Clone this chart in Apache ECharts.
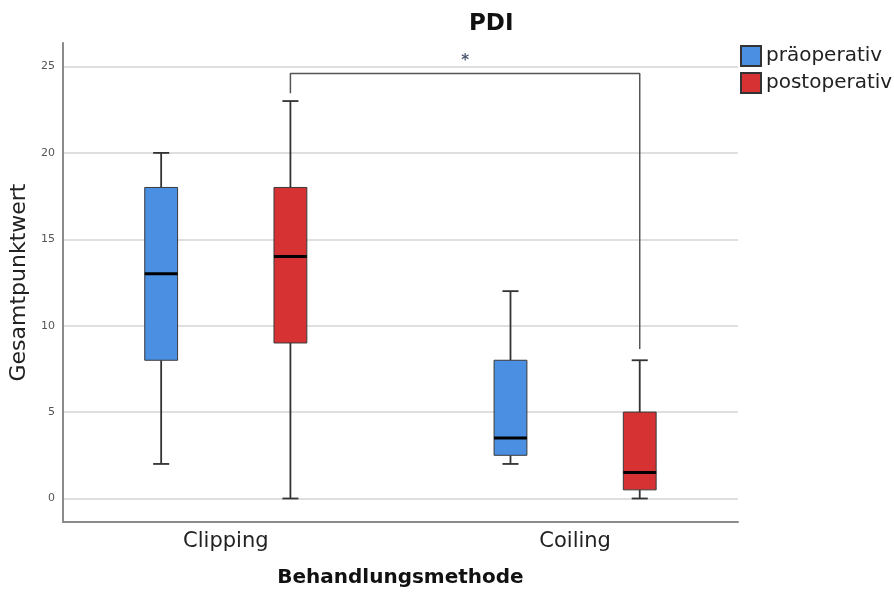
<!DOCTYPE html>
<html>
<head>
<meta charset="utf-8">
<title>PDI</title>
<script src="https://cdn.jsdelivr.net/npm/echarts@6/dist/echarts.min.js"></script>
<style>
  html, body { margin: 0; padding: 0; background: #fff; }
  #chart { width: 894px; height: 595px; }
</style>
</head>
<body>
<div id="chart"></div>
<script>
// Gruppen auf der x-Achse
var groups = ['Clipping', 'Coiling'];
var groupPos = [1, 2];
// [min, Q1, Median, Q3, max]
var praeStats = [[2, 8, 13, 18, 20], [2, 2.5, 3.5, 8, 12]];
var postStats = [[0, 9, 14, 18, 23], [0, 0.5, 1.5, 5, 8]];
var yTicks = [0, 5, 10, 15, 20, 25];
// Signifikanzklammer (post Clipping -> post Coiling)
var bracketTop = 24.6;
var bracketLegs = [23.45, 8.65];
var starLevel = 25.3;

var praeColor = '#4a8fe2';
var postColor = '#d63233';
var boxOffset = 0.185;   // Abstand Box zu Gruppenmitte
var boxWidth = 0.094;
var capWidth = 0.046;

function boxData(stats) {
  return groupPos.map(function (g, i) { return [g].concat(stats[i]); });
}

function renderBox(offset, color) {
  return function (params, api) {
    var x = api.value(0) + offset;
    var half = api.size([boxWidth, 0])[0] / 2;
    var capHalf = api.size([capWidth, 0])[0] / 2;
    var pMin = api.coord([x, api.value(1)]);
    var pQ1 = api.coord([x, api.value(2)]);
    var pMed = api.coord([x, api.value(3)]);
    var pQ3 = api.coord([x, api.value(4)]);
    var pMax = api.coord([x, api.value(5)]);
    var wStyle = { stroke: '#333', lineWidth: 1.8 };
    return {
      type: 'group',
      children: [
        { type: 'line', shape: { x1: pMin[0], y1: pMin[1], x2: pQ1[0], y2: pQ1[1] }, style: wStyle },
        { type: 'line', shape: { x1: pQ3[0], y1: pQ3[1], x2: pMax[0], y2: pMax[1] }, style: wStyle },
        { type: 'line', shape: { x1: pMin[0] - capHalf, y1: pMin[1], x2: pMin[0] + capHalf, y2: pMin[1] }, style: wStyle },
        { type: 'line', shape: { x1: pMax[0] - capHalf, y1: pMax[1], x2: pMax[0] + capHalf, y2: pMax[1] }, style: wStyle },
        { type: 'rect', shape: { x: pQ3[0] - half, y: pQ3[1], width: half * 2, height: pQ1[1] - pQ3[1] },
          style: { fill: color, stroke: '#3a3a3a', lineWidth: 1 } },
        { type: 'line', shape: { x1: pMed[0] - half, y1: pMed[1], x2: pMed[0] + half, y2: pMed[1] },
          style: { stroke: '#000', lineWidth: 3 } }
      ]
    };
  };
}

var chart = echarts.init(document.getElementById('chart'));

var bracketData = [
  [groupPos[0] + boxOffset, bracketLegs[0]],
  [groupPos[0] + boxOffset, bracketTop],
  [groupPos[1] + boxOffset, bracketTop],
  [groupPos[1] + boxOffset, bracketLegs[1]]
];
var starX = (groupPos[0] + groupPos[1]) / 2 + boxOffset;

var option = {
  backgroundColor: '#fff',
  animation: false,
  title: {
    text: 'PDI',
    left: 464,
    top: 8,
    textStyle: { fontFamily: 'DejaVu Sans', fontSize: 23, fontWeight: 'bold', color: '#111' }
  },
  legend: {
    data: ['präoperativ', 'postoperativ'],
    orient: 'vertical',
    left: 740,
    top: 45,
    padding: 0,
    itemWidth: 20,
    itemHeight: 20,
    itemGap: 5,
    icon: 'rect',
    textStyle: { fontFamily: 'DejaVu Sans', fontSize: 20, color: '#222' }
  },
  grid: { left: 61, right: 156, top: 43, bottom: 73 },
  xAxis: {
    type: 'value',
    min: 0.5337,
    max: 2.4663,
    axisLine: { onZero: false, lineStyle: { color: '#8a8a8a', width: 2 } },
    axisTick: { show: false, customValues: groupPos },
    splitLine: { show: false },
    axisLabel: {
      customValues: groupPos,
      formatter: function (v) { return groups[groupPos.indexOf(v)]; },
      fontFamily: 'DejaVu Sans', fontSize: 21, color: '#222', margin: 9
    },
    name: 'Behandlungsmethode',
    nameLocation: 'middle',
    nameGap: 46,
    nameTextStyle: { fontFamily: 'DejaVu Sans', fontSize: 20, fontWeight: 'bold', color: '#111' }
  },
  yAxis: {
    type: 'value',
    min: -1.36,
    max: 26.36,
    axisLine: { show: true, onZero: false, lineStyle: { color: '#8a8a8a', width: 2 } },
    axisTick: { show: false, customValues: yTicks },
    axisLabel: { customValues: yTicks, fontFamily: 'DejaVu Sans', fontSize: 11, color: '#555', margin: 8 },
    splitLine: { show: true, lineStyle: { color: '#d4d4d4', width: 1.5 } },
    name: 'Gesamtpunktwert',
    nameLocation: 'middle',
    nameGap: 25,
    nameTextStyle: { fontFamily: 'DejaVu Sans', fontSize: 22, color: '#222' }
  },
  series: [
    {
      name: 'präoperativ',
      type: 'custom',
      color: praeColor,
      itemStyle: { color: praeColor, borderColor: '#333', borderWidth: 1 },
      renderItem: renderBox(-boxOffset, praeColor),
      encode: { x: 0, y: [1, 2, 3, 4, 5] },
      data: boxData(praeStats)
    },
    {
      name: 'postoperativ',
      type: 'custom',
      color: postColor,
      itemStyle: { color: postColor, borderColor: '#333', borderWidth: 1 },
      renderItem: renderBox(boxOffset, postColor),
      encode: { x: 0, y: [1, 2, 3, 4, 5] },
      data: boxData(postStats)
    },
    {
      name: 'bracket',
      type: 'line',
      silent: true,
      symbol: 'none',
      lineStyle: { color: '#555', width: 1.5 },
      data: bracketData
    },
    {
      name: 'star',
      type: 'scatter',
      silent: true,
      symbolSize: 0,
      data: [[starX, starLevel]],
      label: {
        show: true,
        position: 'inside',
        formatter: '*',
        fontFamily: 'DejaVu Sans',
        fontSize: 15,
        fontWeight: 'bold',
        color: '#1a2a48'
      }
    }
  ]
};

chart.setOption(option);
</script>
</body>
</html>
